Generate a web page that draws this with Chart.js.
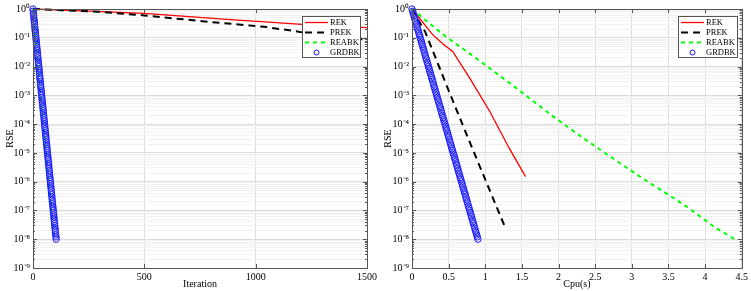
<!DOCTYPE html>
<html><head><meta charset="utf-8">
<script src="https://cdn.jsdelivr.net/npm/chart.js@4/dist/chart.umd.min.js"></script>
<style>
html,body{margin:0;padding:0;background:#fff;width:751px;height:291px;overflow:hidden}
#c1{position:absolute;left:0;top:0;z-index:1}
#c2{position:absolute;left:375px;top:0;z-index:2}
</style></head><body>
<canvas id="c1" width="385" height="291"></canvas>
<canvas id="c2" width="376" height="291"></canvas>
<script>
// ---------- data ----------
const seriesNames = ['REK', 'PREK', 'REABK', 'GRDBK'];

// Left panel: RSE vs iteration
const rekIter   = [0, 250, 500, 700, 920, 1210, 1500];
const rekIterRSE = [1, 0.85, 0.71, 0.54, 0.41, 0.29, 0.226];
const prekIter  = [0, 290, 500, 770, 1040, 1200, 1500];
const prekIterRSE = [1, 0.81, 0.60, 0.37, 0.24, 0.16, 0.085];
const reabkIter = [0, 30, 60, 91];
const reabkIterRSE = [1, 2.6e-3, 7.0e-6, 1.4e-8];

// GRDBK: RSE per iteration (one marker per iteration)
const grdbkRSE = [
 1, 8.4e-1, 7.0e-1, 5.9e-1, 4.9e-1, 4.1e-1, 3.5e-1, 2.9e-1, 2.4e-1, 2.0e-1, 1.7e-1, 1.4e-1, 1.2e-1,
 1e-1, 8.4e-2, 7.0e-2, 5.9e-2, 4.9e-2, 4.1e-2, 3.5e-2, 2.9e-2, 2.4e-2, 2.0e-2, 1.7e-2, 1.4e-2, 1.2e-2,
 1e-2, 8.4e-3, 7.0e-3, 5.9e-3, 4.9e-3, 4.1e-3, 3.5e-3, 2.9e-3, 2.4e-3, 2.0e-3, 1.7e-3, 1.4e-3, 1.2e-3,
 1e-3, 8.4e-4, 7.0e-4, 5.9e-4, 4.9e-4, 4.1e-4, 3.5e-4, 2.9e-4, 2.4e-4, 2.0e-4, 1.7e-4, 1.4e-4, 1.2e-4,
 1e-4, 8.4e-5, 7.0e-5, 5.9e-5, 4.9e-5, 4.1e-5, 3.5e-5, 2.9e-5, 2.4e-5, 2.0e-5, 1.7e-5, 1.4e-5, 1.2e-5,
 1e-5, 8.4e-6, 7.0e-6, 5.9e-6, 4.9e-6, 4.1e-6, 3.5e-6, 2.9e-6, 2.4e-6, 2.0e-6, 1.7e-6, 1.4e-6, 1.2e-6,
 1e-6, 8.4e-7, 7.0e-7, 5.9e-7, 4.9e-7, 4.1e-7, 3.5e-7, 2.9e-7, 2.4e-7, 2.0e-7, 1.7e-7, 1.4e-7, 1.2e-7,
 1e-7, 8.4e-8, 7.0e-8, 5.9e-8, 4.9e-8, 4.1e-8, 3.5e-8, 2.9e-8, 2.4e-8, 2.0e-8, 1.7e-8, 1.4e-8, 1.2e-8,
 1e-8
];
const grdbkIter = grdbkRSE.map((_, i) => i);
const grdbkCpu = [
 0, .009, .017, .026, .035, .043, .052, .061, .069, .078, .087, .095, .104, .112, .121, .130, .138, .147, .156, .164,
 .173, .182, .190, .199, .208, .216, .225, .234, .242, .251, .260, .268, .277, .286, .294, .303, .311, .320, .329, .337,
 .346, .355, .363, .372, .381, .389, .398, .407, .415, .424, .433, .441, .450, .459, .467, .476, .485, .493, .502, .510,
 .519, .528, .536, .545, .554, .562, .571, .580, .588, .597, .606, .614, .623, .632, .640, .649, .658, .666, .675, .684,
 .692, .701, .709, .718, .727, .735, .744, .753, .761, .770, .779, .787, .796, .805, .813, .822, .831, .839, .848, .857,
 .865, .874, .883, .891, .900
];

// Right panel: RSE vs CPU time
const rekCpu   = [0, 0.285, 0.42, 0.557, 0.79, 1.06, 1.33, 1.55];
const rekCpuRSE = [1, 0.126, 0.062, 0.033, 3.9e-3, 2.8e-4, 1.4e-5, 1.5e-6];
const prekCpu  = [0, 0.18, 0.52, 0.82, 1.265];
const prekCpuRSE = [1, 0.16, 1.1e-3, 1.5e-5, 2.8e-8];
const reabkCpu = [0, 0.42, 0.88, 1.33, 1.92, 2.32, 2.86, 3.23, 3.5, 3.78, 4.14, 4.42];
const reabkCpuRSE = [1, 0.132, 0.019, 2.7e-3, 1.9e-4, 3.5e-5, 4.0e-6, 9.5e-7, 3.5e-7, 1.2e-7, 2.5e-8, 9.5e-9];

// tick labels
const xTicksIter = [0, 500, 1000, 1500];
const xTicksCpu  = [0, 0.5, 1, 1.5, 2, 2.5, 3, 3.5, 4, 4.5];
const yExponents = [0, -1, -2, -3, -4, -5, -6, -7, -8, -9];

// ---------- helpers ----------
const FONT = "'Liberation Serif','Times New Roman',serif";
const SUP = {'0':'\u2070','1':'\u00b9','2':'\u00b2','3':'\u00b3','4':'\u2074','5':'\u2075','6':'\u2076','7':'\u2077','8':'\u2078','9':'\u2079','-':'\u207b'};
const sup = n => String(n).split('').map(c => SUP[c]).join('');
const isPow10 = v => { const l = Math.log10(v); return Math.abs(l - Math.round(l)) < 1e-6; };
const pts = (xs, ys) => xs.map((x, i) => ({x, y: ys[i]}));
const AX = '#555';

const framePlugin = {
  id: 'frame',
  afterDraw(chart, args, opts) {
    const {ctx, chartArea: a, scales} = chart;
    ctx.save();
    ctx.strokeStyle = AX; ctx.lineWidth = 1;
    ctx.beginPath();
    scales.y.ticks.forEach(t => {
      const y = Math.round(scales.y.getPixelForValue(t.value)) + 0.5;
      const L = isPow10(t.value) ? 4 : 2;
      ctx.moveTo(a.left, y); ctx.lineTo(a.left + L, y);
      ctx.moveTo(a.right, y); ctx.lineTo(a.right - L, y);
    });
    scales.x.ticks.forEach(t => {
      const x = Math.round(scales.x.getPixelForValue(t.value)) + 0.5;
      ctx.moveTo(x, a.bottom); ctx.lineTo(x, a.bottom - 4);
      ctx.moveTo(x, a.top); ctx.lineTo(x, a.top + 4);
    });
    ctx.stroke();
    ctx.strokeRect(Math.round(a.left) + 0.5, Math.round(a.top) + 0.5, Math.round(a.right - a.left), Math.round(a.bottom - a.top));
    // legend
    const bw = opts.w, bh = 41;
    const bx = Math.round(a.right - opts.inset - bw), by = Math.round(a.top + 7);
    ctx.fillStyle = '#fff'; ctx.fillRect(bx, by, bw, bh);
    ctx.strokeStyle = AX; ctx.strokeRect(bx + 0.5, by + 0.5, bw, bh);
    chart.data.datasets.forEach((d, i) => {
      const y = by + 6.5 + i * 10;
      ctx.save();
      if (d.showLine === false) {
        ctx.strokeStyle = d.pointBorderColor; ctx.lineWidth = 1;
        ctx.beginPath(); ctx.arc(bx + 14.5, y, 2.5, 0, Math.PI * 2); ctx.stroke();
      } else {
        ctx.strokeStyle = d.borderColor; ctx.lineWidth = d.borderWidth;
        ctx.setLineDash(d.borderDash || []);
        ctx.beginPath(); ctx.moveTo(bx + 3, y); ctx.lineTo(bx + 26, y); ctx.stroke();
      }
      ctx.restore();
      ctx.fillStyle = '#000'; ctx.font = '8.5px ' + FONT; ctx.textBaseline = 'middle';
      ctx.fillText(d.label, bx + 28, y);
    });
    ctx.restore();
  }
};

function yAxis(width, titlePad) {
  return {
    type: 'logarithmic', min: 1e-9, max: 1,
    afterBuildTicks(s) {
      const t = [];
      yExponents.slice().reverse().forEach(e => {
        for (let m = 1; m <= 9; m++) { if (e === 0 && m > 1) break; t.push({value: m * Math.pow(10, e)}); }
      });
      s.ticks = t;
    },
    afterFit(s) { s.width = width; },
    ticks: { autoSkip: false, padding: 3, color: '#000', font: {family: FONT, size: 10},
      callback(v) { return isPow10(v) ? '10' + sup(Math.round(Math.log10(v))) : ''; } },
    grid: { drawTicks: false, color: c => (c.tick && isPow10(c.tick.value)) ? '#dcdcdc' : '#f2f2f2' },
    border: { display: false },
    title: { display: true, text: 'RSE', color: '#000', font: {family: FONT, size: 10}, padding: {top: titlePad, bottom: 0} }
  };
}
function xAxis(max, ticks, title) {
  return {
    type: 'linear', min: 0, max: max,
    afterBuildTicks(s) { s.ticks = ticks.map(v => ({value: v})); },
    afterFit(s) { s.height = 23; },
    ticks: { autoSkip: false, maxRotation: 0, padding: 3, color: '#000', font: {family: FONT, size: 10}, callback: v => String(v) },
    grid: { drawTicks: false, color: '#dcdcdc' },
    border: { display: false },
    title: { display: true, text: title, color: '#000', font: {family: FONT, size: 10}, padding: {top: 0, bottom: 1} }
  };
}
function datasets(rek, prek, reabk, grdbk) {
  return [
    { label: seriesNames[0], data: rek, showLine: true, borderColor: '#ff0000', borderWidth: 1.3, pointRadius: 0, order: 4, clip: false },
    { label: seriesNames[1], data: prek, showLine: true, borderColor: '#000000', borderWidth: 2, borderDash: [7, 5], pointRadius: 0, order: 3, clip: false },
    { label: seriesNames[2], data: reabk, showLine: true, borderColor: '#00ff00', borderWidth: 2, borderDash: [4, 4], pointRadius: 0, order: 2, clip: false },
    { label: seriesNames[3], data: grdbk, showLine: false, pointRadius: 3.2, pointBorderWidth: 1, pointBorderColor: '#1a1aff', pointBackgroundColor: 'rgba(255,255,255,0)', order: 1, clip: false }
  ];
}
function common(padRight, legendW, legendInset) {
  return {
    responsive: false, animation: false, devicePixelRatio: 1, events: [],
    layout: { padding: {top: 6, right: padRight, bottom: 0, left: 0} },
    plugins: { legend: {display: false}, tooltip: {enabled: false}, frame: {w: legendW, inset: legendInset} }
  };
}

new Chart(document.getElementById('c1'), {
  type: 'scatter',
  data: { datasets: datasets(pts(rekIter, rekIterRSE), pts(prekIter, prekIterRSE), pts(reabkIter, reabkIterRSE), pts(grdbkIter, grdbkRSE)) },
  options: Object.assign(common(18, 58, 7), { scales: { x: xAxis(1500, xTicksIter, 'Iteration'), y: yAxis(33, 4) } }),
  plugins: [framePlugin]
});
new Chart(document.getElementById('c2'), {
  type: 'scatter',
  data: { datasets: datasets(pts(rekCpu, rekCpuRSE), pts(prekCpu, prekCpuRSE), pts(reabkCpu, reabkCpuRSE), pts(grdbkCpu, grdbkRSE)) },
  options: Object.assign(common(8, 59, 5), { scales: { x: xAxis(4.5, xTicksCpu, 'Cpu(s)'), y: yAxis(37, 7) } }),
  plugins: [framePlugin]
});
</script>
</body></html>
